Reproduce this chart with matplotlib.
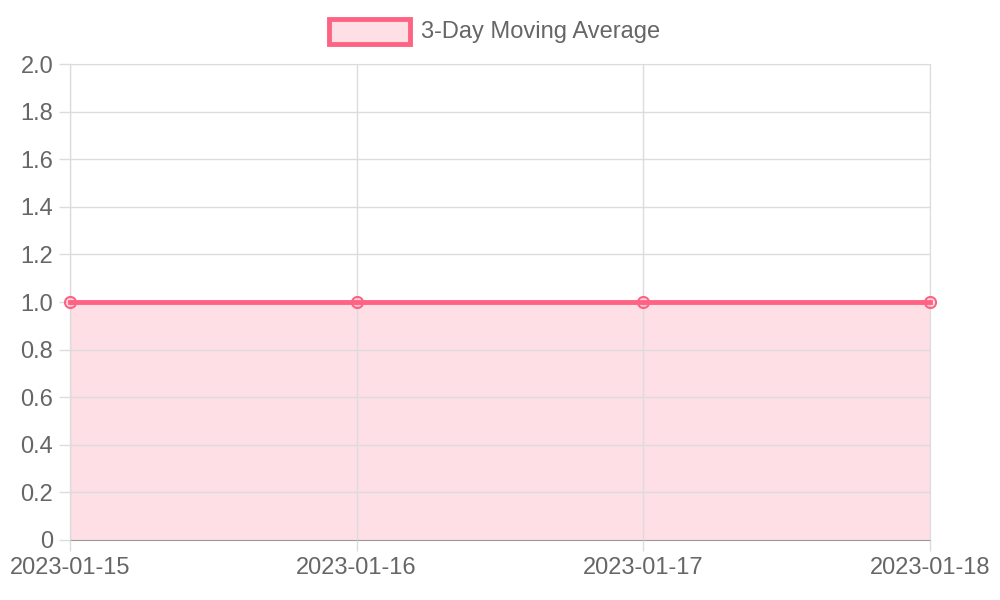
import matplotlib.pyplot as plt
from matplotlib.patches import Rectangle

dates = ["2023-01-15", "2023-01-16", "2023-01-17", "2023-01-18"]
moving_avg = [1.0, 1.0, 1.0, 1.0]
y_ticks = [0, 0.2, 0.4, 0.6, 0.8, 1.0, 1.2, 1.4, 1.6, 1.8, 2.0]
y_labels = ["0", "0.2", "0.4", "0.6", "0.8", "1.0", "1.2", "1.4", "1.6", "1.8", "2.0"]

line_col = (1.0, 99/255, 132/255)
fill_col = (1.0, 99/255, 132/255, 0.2)
text_col = "#666666"
grid_col = "#dcdcdc"

plt.rcParams['font.family'] = ['Liberation Sans', 'DejaVu Sans']

fig = plt.figure(figsize=(10, 6), dpi=100)
ax = fig.add_axes([0.07, 0.1, 0.86, 0.7933])

x = list(range(len(dates)))
ax.fill_between(x, moving_avg, 0, color=fill_col, linewidth=0, zorder=1)
ax.plot(x, moving_avg, color=line_col, linewidth=3.5, marker="o", markersize=8,
        markerfacecolor=fill_col, markeredgecolor=line_col, markeredgewidth=1.5,
        clip_on=False, zorder=5)

ax.set_xlim(0, len(dates) - 1)
ax.set_ylim(0, 2.0)
ax.set_xticks(x)
ax.set_xticklabels(dates)
ax.set_yticks(y_ticks)
ax.set_yticklabels(y_labels)
ax.grid(True, color=grid_col, linewidth=1, zorder=2)
ax.set_axisbelow(False)
ax.tick_params(colors=text_col, labelsize=17, length=8, width=1, pad=4)
ax.tick_params(axis='both', color=grid_col)
for s in ["top", "right"]:
    ax.spines[s].set_color(grid_col)
for s in ["left", "bottom"]:
    ax.spines[s].set_color("#999999")

fig.patches.append(Rectangle((0.329, 1 - 44/600), 0.081, 25/600, transform=fig.transFigure,
                             facecolor=fill_col, edgecolor=line_col, linewidth=3.5))
fig.text(0.421, 1 - 32/600, "3-Day Moving Average", color=text_col, fontsize=17, va="center")

fig.savefig("out.png")
